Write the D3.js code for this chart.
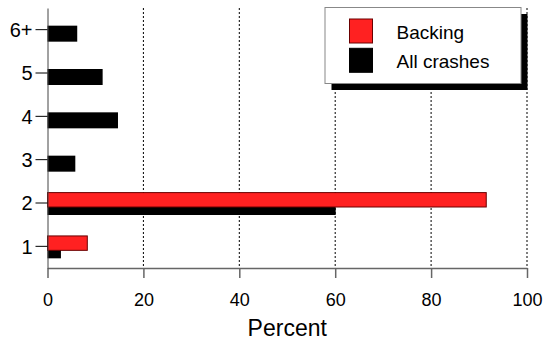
<!DOCTYPE html>
<meta charset="utf-8">
<title>Backing vs all crashes</title>
<style>
body { margin: 0; background: #fff; }
text { font-family: "Liberation Sans", Arial, Helvetica, sans-serif; fill: #000; }
.grid line { stroke: #000; stroke-width: 1; stroke-dasharray: 2,2; }
.x-axis .domain, .x-axis .tick line { stroke: #666; stroke-width: 1.5; }
.y-axis .domain { stroke: #444; }
.y-axis .tick line { stroke: #000; }
</style>
<svg width="543" height="341"></svg>
<script src="https://cdn.jsdelivr.net/npm/d3@7"></script>
<script>

var categories = ["1", "2", "3", "4", "5", "6+"];
var backing = [8.3, 91.5, 0, 0, 0, 0];
var allCrashes = [2.8, 60.1, 5.8, 14.7, 11.5, 6.2];
var xTicks = [0, 20, 40, 60, 80, 100];
var seriesNames = ["Backing", "All crashes"];

var svg = d3.select("svg");

var x = d3.scaleLinear().domain([0, 100]).range([47.5, 527]);
var y = d3.scaleBand().domain(categories).range([268, 8]);
var bw = y.bandwidth();

// dotted gridlines
svg.append("g")
    .attr("class", "grid")
  .selectAll("line")
  .data(xTicks.slice(1))
  .enter().append("line")
    .attr("x1", function(d) { return x(d); })
    .attr("x2", function(d) { return x(d); })
    .attr("y1", 8)
    .attr("y2", 268);

var rows = categories.map(function(c, i) {
  return { cat: c, backing: backing[i], all: allCrashes[i] };
});

// black bars behind, red bars on top
svg.append("g").selectAll("rect")
  .data(rows)
  .enter().append("rect")
    .attr("x", x(0))
    .attr("y", function(d) { return y(d.cat) + bw / 2 - 4; })
    .attr("width", function(d) { return x(d.all) - x(0); })
    .attr("height", 16)
    .attr("fill", "#000");

svg.append("g").selectAll("rect")
  .data(rows)
  .enter().append("rect")
    .attr("x", x(0))
    .attr("y", function(d) { return y(d.cat) + bw / 2 - 10.4; })
    .attr("width", function(d) { return x(d.backing) - x(0); })
    .attr("height", 14.4)
    .attr("fill", "#ff2121")
    .attr("stroke", "#6a0000")
    .attr("stroke-width", 1);

// x axis
var xAxis = svg.append("g")
    .attr("class", "x-axis")
    .attr("transform", "translate(0,268)")
    .call(d3.axisBottom(x).tickValues(xTicks).tickSize(10).tickSizeOuter(0).tickPadding(15));
xAxis.selectAll("text").style("font-size", "18px");

// y axis
var yAxis = svg.append("g")
    .attr("class", "y-axis")
    .attr("transform", "translate(" + x(0) + ",0)")
    .call(d3.axisLeft(y).tickSize(12).tickSizeOuter(0).tickPadding(3));
yAxis.selectAll("text")
    .style("font-size", "20px")
    .attr("dy", "0.36em");

svg.append("text")
    .attr("x", (x(0) + x(100)) / 2)
    .attr("y", 336)
    .attr("text-anchor", "middle")
    .style("font-size", "23px")
    .text("Percent");

// legend
var legend = svg.append("g").attr("transform", "translate(325,7.5)");
legend.append("rect")
    .attr("x", 6.5).attr("y", 6.5)
    .attr("width", 196).attr("height", 76)
    .attr("fill", "#000");
legend.append("rect")
    .attr("width", 196).attr("height", 76)
    .attr("fill", "#fff")
    .attr("stroke", "#888");

var swatchColors = ["#ff2121", "#000"];
var swatchStroke = ["#6a0000", "#000"];
seriesNames.forEach(function(name, i) {
  legend.append("rect")
      .attr("x", 24.5).attr("y", 11.5 + i * 29.3)
      .attr("width", 23).attr("height", 24)
      .attr("fill", swatchColors[i])
      .attr("stroke", swatchStroke[i]);
  legend.append("text")
      .attr("x", 71.5).attr("y", 31.8 + i * 29)
      .style("font-size", "19px")
      .text(name);
});

</script>
